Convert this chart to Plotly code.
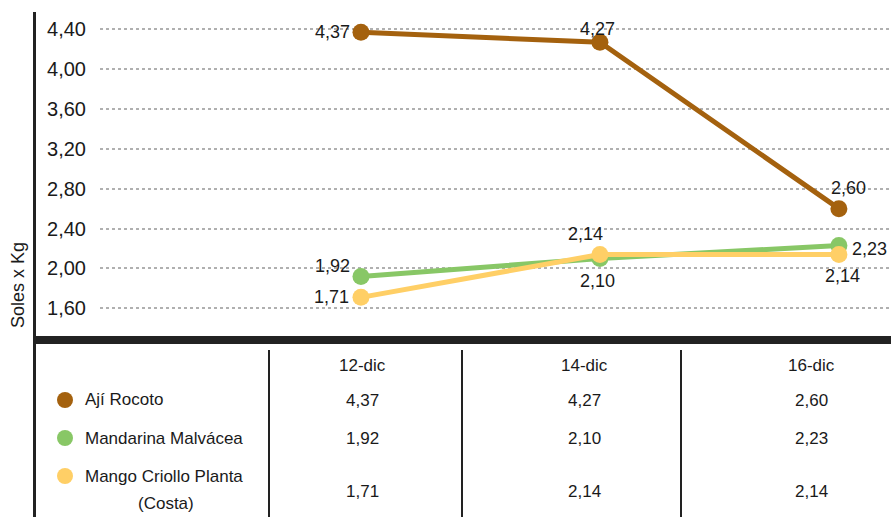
import plotly.graph_objects as go

# ---- data ----
categories = ["12-dic", "14-dic", "16-dic"]
series_names = ["Ají Rocoto", "Mandarina Malvácea", "Mango Criollo Planta (Costa)"]
aji_rocoto = [4.37, 4.27, 2.60]
mandarina_malvacea = [1.92, 2.10, 2.23]
mango_criollo = [1.71, 2.14, 2.14]
y_ticks = [1.60, 2.00, 2.40, 2.80, 3.20, 3.60, 4.00, 4.40]
y_title = "Soles x Kg"

colors = ["#A4610E", "#88C766", "#FFCF66"]
series = [aji_rocoto, mandarina_malvacea, mango_criollo]

W, H = 891, 517
def px(x):
    return x / W
def py(y):
    return 1 - y / H

FONT = "Liberation Sans, Arial, sans-serif"
TXT = "#1a1a1a"

fig = go.Figure()
for name, vals, col in zip(series_names, series, colors):
    fig.add_trace(go.Scatter(
        x=categories, y=vals, name=name, mode="lines+markers",
        line=dict(color=col, width=5),
        marker=dict(color=col, size=17),
        showlegend=False, hoverinfo="skip",
    ))

def fmt(v):
    return f"{v:.2f}".replace(".", ",")

# data label offsets per series/point: (xanchor, xshift, yshift)
label_pos = [
    [("right", -9, 0), ("center", -2, 13), ("center", 10, 21)],
    [("right", -9, 10), ("center", -2, -23), ("left", 11, -3)],
    [("right", -10, 0), ("center", -14, 20), ("center", 4, -22)],
]
annotations = []
for vals, poss in zip(series, label_pos):
    for c, v, (xa, xs, ys) in zip(categories, vals, poss):
        annotations.append(dict(
            x=c, y=v, xref="x", yref="y", text=fmt(v), showarrow=False,
            xanchor=xa, yanchor="middle", xshift=xs, yshift=ys,
            font=dict(family=FONT, size=18, color=TXT)))

# y-axis title
annotations.append(dict(
    x=px(18), y=py(285), xref="paper", yref="paper", text=y_title,
    textangle=-90, showarrow=False, xanchor="center", yanchor="middle",
    font=dict(family=FONT, size=18, color=TXT)))

# ---- table ----
col_x = [362, 584, 811]
row_y = [400, 438, 491]
for cx, c in zip(col_x, categories):
    annotations.append(dict(x=px(cx), y=py(365), xref="paper", yref="paper",
                            text=c, showarrow=False, xanchor="center", yanchor="middle",
                            font=dict(family=FONT, size=17, color=TXT)))
for ry, vals in zip(row_y, series):
    for cx, v in zip(col_x, vals):
        annotations.append(dict(x=px(cx), y=py(ry), xref="paper", yref="paper",
                                text=fmt(v), showarrow=False, xanchor="center", yanchor="middle",
                                font=dict(family=FONT, size=17, color=TXT)))

legend_rows = [
    [("Ají Rocoto", 83, 399, "left")],
    [("Mandarina Malvácea", 83, 438, "left")],
    [("Mango Criollo Planta", 83, 476, "left"), ("(Costa)", 166, 503, "center")],
]
legend_dot_y = [400, 438, 476]
shapes = []
for parts, dy, col in zip(legend_rows, legend_dot_y, colors):
    for text, lx, ly, xa in parts:
        annotations.append(dict(x=px(lx), y=py(ly), xref="paper", yref="paper",
                                text=text, showarrow=False, xanchor=xa, yanchor="middle",
                                font=dict(family=FONT, size=17, color=TXT)))
    shapes.append(dict(type="circle", xref="paper", yref="paper",
                       x0=px(57), x1=px(73), y0=py(dy - 8), y1=py(dy + 8),
                       fillcolor=col, line=dict(width=0)))

# structural lines
shapes.append(dict(type="line", xref="paper", yref="paper",
                   x0=px(34.5), x1=px(34.5), y0=py(12), y1=py(517),
                   line=dict(color="#222", width=3)))
shapes.append(dict(type="line", xref="paper", yref="paper",
                   x0=px(34.5), x1=px(891), y0=py(340), y1=py(340),
                   line=dict(color="#222", width=8)))
for sx in [269, 462, 681]:
    shapes.append(dict(type="line", xref="paper", yref="paper",
                       x0=px(sx), x1=px(sx), y0=py(350), y1=py(517),
                       line=dict(color="#222", width=2)))

fig.update_layout(
    width=W, height=H,
    margin=dict(l=0, r=0, t=0, b=0),
    paper_bgcolor="white", plot_bgcolor="white",
    separators=",.",
    font=dict(family=FONT, color=TXT),
    xaxis=dict(domain=[px(100), 1], range=[-1.092, 2.218], showgrid=False,
               showticklabels=False, zeroline=False, showline=False, fixedrange=True),
    yaxis=dict(domain=[py(337), py(12)], range=[1.312, 4.5735],
               tickvals=y_ticks, tickformat=".2f", showgrid=True,
               gridcolor="#b0b0b0", gridwidth=1.5, griddash="dot",
               zeroline=False, showline=False, ticks="", ticklabelstandoff=13,
               tickfont=dict(family=FONT, size=20, color=TXT), fixedrange=True),
    annotations=annotations,
    shapes=shapes,
)

fig.write_html("out.html", config={"displayModeBar": False},
               post_script="document.body.style.margin='0';document.body.style.overflow='hidden';")
